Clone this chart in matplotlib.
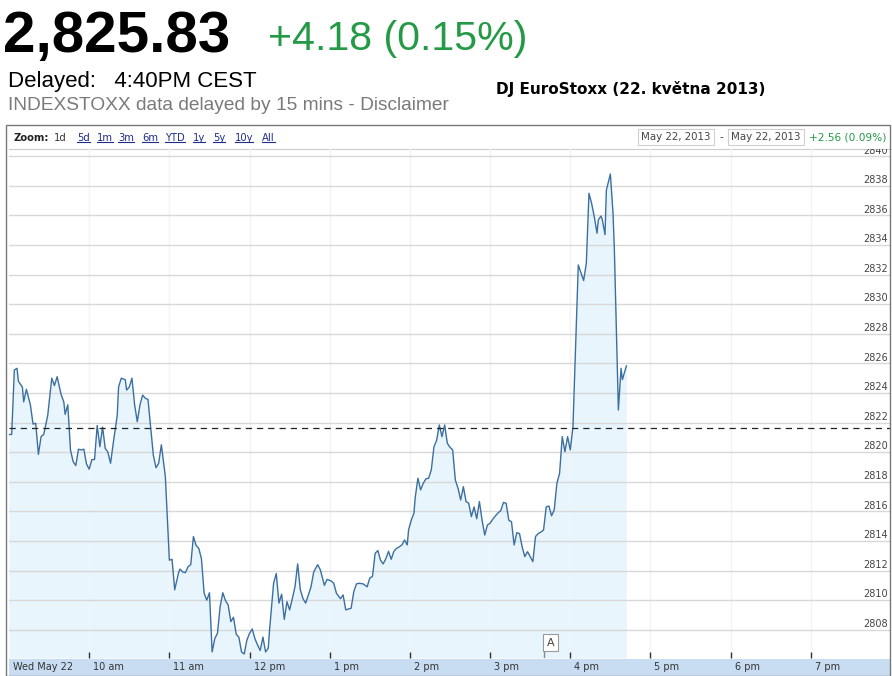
import matplotlib
matplotlib.use("Agg")
import matplotlib.pyplot as plt
import matplotlib.transforms as mtransforms
from matplotlib.patches import Rectangle
from matplotlib.lines import Line2D
import numpy as np
import pandas as pd

# --- data ---
last_price = "2,825.83"
change_text = "+4.18 (0.15%)"
prev_close = 2821.65
range_change = "+2.56 (0.09%)"
title = "DJ EuroStoxx (22. května 2013)"

times = [
    "09:00", "09:02", "09:04", "09:06", "09:07", "09:10", "09:11", "09:13", "09:16", "09:18",
    "09:20", "09:22", "09:24", "09:26", "09:29", "09:32", "09:34", "09:36", "09:39", "09:41",
    "09:42", "09:44", "09:46", "09:48", "09:50", "09:52", "09:54", "09:56", "09:58", "10:00",
    "10:02", "10:04", "10:06", "10:08", "10:10", "10:12", "10:14", "10:16", "10:18", "10:21",
    "10:22", "10:24", "10:27", "10:28", "10:30", "10:32", "10:34", "10:36", "10:38", "10:40",
    "10:42", "10:44", "10:46", "10:48", "10:50", "10:52", "10:54", "10:57", "11:00", "11:02",
    "11:04", "11:07", "11:08", "11:10", "11:12", "11:14", "11:16", "11:18", "11:20", "11:22",
    "11:24", "11:26", "11:28", "11:30", "11:32", "11:34", "11:36", "11:38", "11:40", "11:42",
    "11:44", "11:46", "11:48", "11:50", "11:52", "11:54", "11:56", "11:58", "12:00", "12:02",
    "12:04", "12:06", "12:08", "12:10", "12:12", "12:14", "12:15", "12:18", "12:20", "12:22",
    "12:24", "12:26", "12:28", "12:30", "12:32", "12:34", "12:36", "12:38", "12:40", "12:42",
    "12:44", "12:46", "12:48", "12:51", "12:53", "12:56", "12:58", "13:01", "13:03", "13:05",
    "13:08", "13:10", "13:12", "13:14", "13:16", "13:18", "13:20", "13:22", "13:25", "13:28",
    "13:30", "13:32", "13:34", "13:36", "13:38", "13:40", "13:42", "13:44", "13:46", "13:48",
    "13:50", "13:52", "13:54", "13:56", "13:58", "13:59", "14:01", "14:03", "14:04", "14:06",
    "14:08", "14:10", "14:12", "14:14", "14:16", "14:18", "14:20", "14:22", "14:24", "14:26",
    "14:28", "14:30", "14:32", "14:34", "14:36", "14:38", "14:40", "14:42", "14:44", "14:46",
    "14:48", "14:50", "14:52", "14:54", "14:56", "14:58", "15:00", "15:02", "15:04", "15:06",
    "15:08", "15:10", "15:12", "15:14", "15:16", "15:18", "15:20", "15:22", "15:24", "15:26",
    "15:28", "15:30", "15:32", "15:34", "15:36", "15:38", "15:40", "15:42", "15:44", "15:46",
    "15:48", "15:50", "15:52", "15:54", "15:56", "15:58", "16:00", "16:02", "16:06", "16:08",
    "16:10", "16:12", "16:14", "16:16", "16:18", "16:20", "16:21", "16:23", "16:24", "16:26",
    "16:27", "16:30", "16:32", "16:33", "16:36", "16:38", "16:39", "16:42",
]
prices = [
    2821.2, 2821.2, 2825.55, 2825.67, 2824.8, 2824.4, 2823.4, 2824.25, 2823.2, 2821.9,
    2821.95, 2819.85, 2821.05, 2821.2, 2822.5, 2825.0, 2824.5, 2825.1, 2823.9, 2823.4,
    2822.56, 2823.2, 2820.15, 2819.36, 2819.1, 2820.2, 2820.15, 2820.2, 2819.2, 2818.85,
    2819.5, 2819.5, 2821.8, 2820.37, 2821.7, 2820.26, 2820.0, 2819.25, 2820.6, 2822.5,
    2824.4, 2825.0, 2824.9, 2824.2, 2824.4, 2825.0, 2823.2, 2822.06, 2823.2, 2823.86,
    2823.64, 2823.57, 2821.7, 2819.8, 2818.95, 2819.25, 2820.5, 2818.35, 2812.7, 2812.76,
    2810.7, 2811.9, 2812.1, 2811.9, 2811.86, 2812.26, 2812.4, 2814.3, 2813.7, 2813.5,
    2812.8, 2810.47, 2810.0, 2810.5, 2806.5, 2807.4, 2807.76, 2809.56, 2810.5, 2809.97,
    2809.67, 2808.55, 2808.84, 2807.7, 2807.5, 2806.5, 2806.36, 2807.3, 2807.76, 2808.05,
    2807.4, 2806.97, 2806.6, 2807.5, 2806.5, 2806.75, 2808.0, 2811.14, 2811.8, 2809.8,
    2810.4, 2808.7, 2809.9, 2809.34, 2810.1, 2810.9, 2812.45, 2810.7, 2810.1, 2809.8,
    2810.35, 2810.9, 2811.9, 2812.4, 2812.04, 2811.0, 2811.4, 2811.3, 2811.14, 2810.47,
    2810.1, 2810.35, 2809.34, 2809.4, 2809.45, 2810.57, 2811.1, 2811.14, 2811.1, 2810.9,
    2811.5, 2811.6, 2813.17, 2813.35, 2812.7, 2812.45, 2812.8, 2813.3, 2812.76, 2813.3,
    2813.5, 2813.6, 2813.73, 2814.07, 2813.73, 2814.74, 2815.4, 2815.87, 2816.95, 2818.24,
    2817.45, 2817.9, 2818.2, 2818.24, 2818.8, 2820.37, 2820.8, 2821.84, 2821.05, 2821.84,
    2820.6, 2820.33, 2820.15, 2818.12, 2817.56, 2816.77, 2817.67, 2816.66, 2816.55, 2815.64,
    2816.3, 2815.5, 2816.66, 2815.4, 2814.4, 2815.08, 2815.2, 2815.47, 2815.7, 2815.9,
    2816.05, 2816.6, 2816.55, 2815.4, 2815.3, 2813.73, 2814.56, 2814.5, 2813.6, 2812.94,
    2813.28, 2812.94, 2812.6, 2814.3, 2814.5, 2814.6, 2814.74, 2816.3, 2816.36, 2815.7,
    2816.1, 2817.9, 2818.57, 2821.05, 2820.03, 2821.05, 2820.15, 2821.7, 2832.65, 2832.13,
    2831.6, 2832.76, 2837.5, 2836.8, 2835.9, 2834.8, 2835.7, 2835.96, 2835.7, 2834.7,
    2837.7, 2838.8, 2836.14, 2833.66, 2822.85, 2825.67, 2824.9, 2825.83,
]

y_levels = list(range(2808, 2841, 2))
hour_labels = ["Wed May 22", "10 am", "11 am", "12 pm", "1 pm", "2 pm",
               "3 pm", "4 pm", "5 pm", "6 pm", "7 pm"]
hour_times = ["09:00", "10:00", "11:00", "12:00", "13:00", "14:00",
              "15:00", "16:00", "17:00", "18:00", "19:00"]
zoom_links = ["1d", "5d", "1m", "3m", "6m", "YTD", "1y", "5y", "10y", "All"]
news_time = "15:40"
news_label = "A"

day = "2013-05-22 "
t = pd.to_datetime([day + s for s in times])
p = np.array(prices)
hours = pd.to_datetime([day + s for s in hour_times])

W, H = 892, 676
fig = plt.figure(figsize=(W / 100, H / 100), dpi=100)
fig.patch.set_facecolor("white")


def fx(px):
    return px / W


def fy(py):
    return 1 - py / H


SANS = "Liberation Sans"
green = "#249a47"

# header
fig.text(fx(3), fy(37), last_price, fontsize=42, fontweight="bold", family=SANS,
         va="center", ha="left", color="black")
fig.text(fx(268), fy(39), change_text, fontsize=29.6, family=SANS, va="center",
         ha="left", color=green)
fig.text(fx(8), fy(81), "Delayed:   4:40PM CEST", fontsize=16, family=SANS,
         va="center", color="black")
fig.text(fx(8), fy(106), "INDEXSTOXX data delayed by 15 mins - Disclaimer",
         fontsize=13.8, family=SANS, va="center", color="#7a7a7a")
fig.text(fx(496), fy(89), title, fontsize=11, fontweight="bold",
         family="DejaVu Sans", va="center", color="black")

# outer chart frame
fig.add_artist(Rectangle((fx(6), fy(676)), fx(890) - fx(6), fy(125) - fy(676),
                         transform=fig.transFigure, fill=False, ec="#777777", lw=1))

# zoom bar
fig.text(fx(13), fy(138), "Zoom:", fontsize=7.2, fontweight="bold", color="#222222",
         va="center")
link_x = [54, 77, 97, 118, 142, 165, 193, 213, 235, 262]
link_texts = []
for lab, lx in zip(zoom_links, link_x):
    col = "#333333" if lab == "1d" else "#1f2d8a"
    tx = fig.text(fx(lx), fy(138), lab, fontsize=7.2, color=col, va="center")
    if lab != "1d":
        link_texts.append(tx)

box = dict(boxstyle="square,pad=0.3", fc="white", ec="#d0d0d0", lw=0.8)
fig.text(fx(641), fy(137), "May 22, 2013", fontsize=7.4, color="#444444", va="center",
         bbox=box)
fig.text(fx(720), fy(137), "-", fontsize=7.4, color="#444444", va="center")
fig.text(fx(731), fy(137), "May 22, 2013", fontsize=7.4, color="#444444", va="center",
         bbox=box)
fig.text(fx(809), fy(137), range_change, fontsize=7.6, color=green, va="center")

# main plot
ax = fig.add_axes([fx(9), fy(658), fx(891) - fx(9), fy(149) - fy(658)])
ax.set_xlim(pd.Timestamp(day + "09:00"), pd.Timestamp(day + "20:00"))
ax.set_ylim(2806.09, 2840.49)
ax.set_facecolor("white")

ax.fill_between(t, p, 2806.09, color="#e8f5fd", lw=0, zorder=1)
ax.plot(t, p, color="#3b6fa0", lw=1, zorder=3)
ax.axhline(prev_close, color="#222222", lw=0.9, ls=(0, (5, 4)), zorder=3)

ax.set_yticks(y_levels)
ax.set_xticks(hours[1:])
ax.set_axisbelow(False)
ax.grid(axis="y", color="#d8d8d8", lw=1, zorder=2)
ax.grid(axis="x", color="#f4f4f4", lw=1, zorder=2)
ax.tick_params(axis="y", length=0, labelleft=False)
ax.tick_params(axis="x", direction="in", length=4, width=1, color="#333333",
               labelbottom=False)
for side in ["left", "right", "bottom"]:
    ax.spines[side].set_visible(False)
ax.spines["top"].set_color("#cccccc")

for v in y_levels:
    ax.text(0.997, v + 0.05, str(v), transform=ax.get_yaxis_transform(), ha="right",
            va="bottom", fontsize=7, color="#444444", clip_on=True)

# news flag
nt = pd.Timestamp(day + news_time)
ax.plot([nt, nt], [0, 0.015], transform=ax.get_xaxis_transform(), color="#888888",
        lw=1, zorder=4)
flag_tr = mtransforms.offset_copy(ax.get_xaxis_transform(), fig=fig, x=7, y=0,
                                  units="dots")
ax.text(nt, 0.03, news_label, transform=flag_tr, ha="center", va="center",
        fontsize=8, color="#444444", zorder=5,
        bbox=dict(boxstyle="square,pad=0.3", fc="white", ec="#999999", lw=0.8))

# time axis band
axb = fig.add_axes([fx(9), fy(676), fx(891) - fx(9), fy(659) - fy(676)])
axb.set_xlim(ax.get_xlim())
axb.set_ylim(0, 1)
axb.set_facecolor("#c9ddf2")
axb.set_xticks([])
axb.set_yticks([])
for s in axb.spines.values():
    s.set_visible(False)
lab_tr = mtransforms.offset_copy(axb.get_xaxis_transform(), fig=fig, x=4, y=0,
                                 units="dots")
for h, lab in zip(hours, hour_labels):
    axb.text(h, 0.5, lab, transform=lab_tr, ha="left", va="center", fontsize=7,
             color="#333333")

# underline the zoom links
fig.canvas.draw()
for tx in link_texts:
    bb = tx.get_window_extent()
    fig.add_artist(Line2D([bb.x0 / W, bb.x1 / W], [(bb.y0 + 1) / H] * 2,
                          transform=fig.transFigure, color="#1f2d8a", lw=0.8))

fig.savefig("out.png", dpi=100)
